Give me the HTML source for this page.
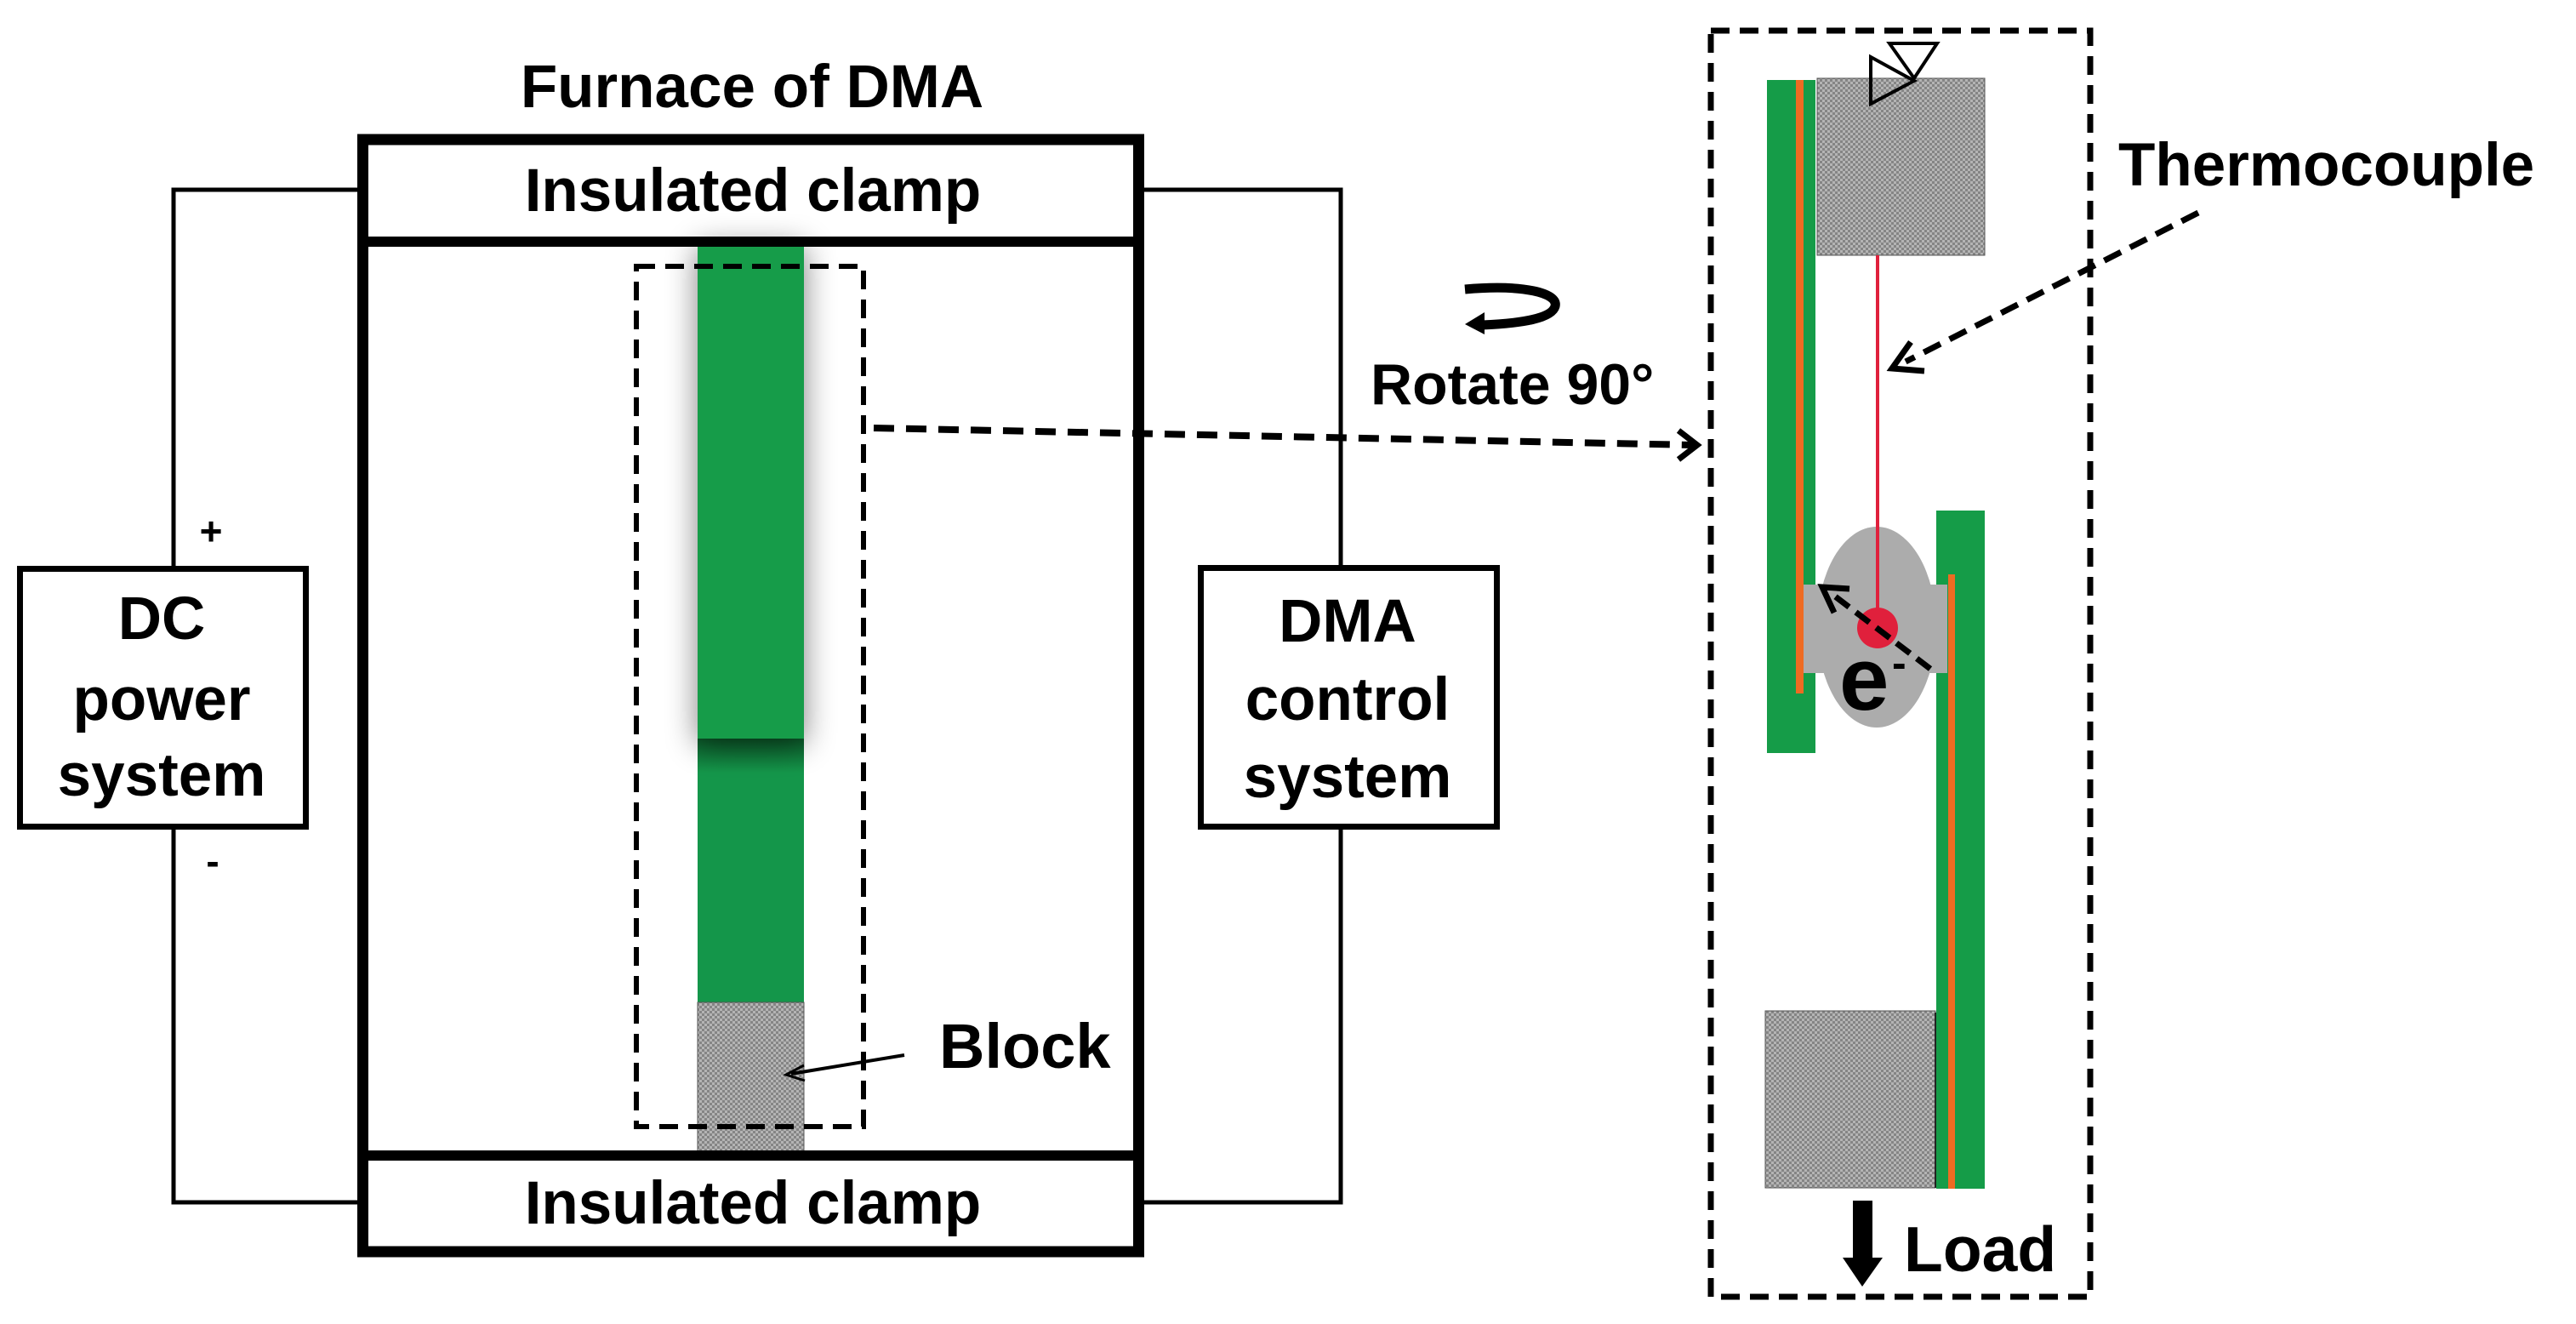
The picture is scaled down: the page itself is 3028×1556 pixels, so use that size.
<!DOCTYPE html>
<html><head><meta charset="utf-8"><style>
html,body{margin:0;padding:0;background:#fff;}
svg{display:block;}
text{font-family:"Liberation Sans",Arial,sans-serif;font-weight:bold;fill:#000;}
</style></head><body>
<svg width="3028" height="1556" viewBox="0 0 3028 1556" xmlns="http://www.w3.org/2000/svg">
<defs>
<pattern id="chk" width="6" height="6" patternUnits="userSpaceOnUse">
<rect width="6" height="6" fill="#b4b4b4"/>
<rect width="3" height="3" fill="#858585"/>
<rect x="3" y="3" width="3" height="3" fill="#858585"/>
</pattern>
<filter id="sh" x="-80%" y="-20%" width="260%" height="140%">
<feGaussianBlur in="SourceAlpha" stdDeviation="18"/>
<feOffset dx="0" dy="6"/>
<feComponentTransfer><feFuncA type="linear" slope="0.5"/></feComponentTransfer>
<feMerge><feMergeNode/><feMergeNode in="SourceGraphic"/></feMerge>
</filter>
<linearGradient id="dk" x1="0" y1="0" x2="0" y2="1">
<stop offset="0" stop-color="#0c5a2a"/>
<stop offset="1" stop-color="#14964a"/>
</linearGradient>
</defs>

<text x="884" y="126" font-size="71" text-anchor="middle">Furnace of DMA</text>

<polyline points="426,223 204,223 204,665" fill="none" stroke="#000" stroke-width="5"/>
<polyline points="204,975 204,1413 426,1413" fill="none" stroke="#000" stroke-width="5"/>
<polyline points="1338,223 1576,223 1576,665" fill="none" stroke="#000" stroke-width="5"/>
<polyline points="1576,975 1576,1413 1338,1413" fill="none" stroke="#000" stroke-width="5"/>

<rect x="820" y="868" width="125" height="310" fill="#14964a"/>
<rect x="820" y="868" width="125" height="40" fill="url(#dk)"/>
<rect x="820" y="284" width="125" height="584" fill="#159c48" filter="url(#sh)"/>
<rect x="820" y="1178" width="125" height="176" fill="url(#chk)" stroke="#555" stroke-width="1"/>

<rect x="426.5" y="164" width="912" height="1307" fill="none" stroke="#000" stroke-width="13"/>
<line x1="426" y1="284" x2="1339" y2="284" stroke="#000" stroke-width="12"/>
<line x1="426" y1="1358" x2="1339" y2="1358" stroke="#000" stroke-width="12"/>
<text x="885" y="248" font-size="71" text-anchor="middle">Insulated clamp</text>
<text x="885" y="1438" font-size="71" text-anchor="middle">Insulated clamp</text>

<rect x="748" y="313" width="267" height="1011" fill="none" stroke="#000" stroke-width="6" stroke-dasharray="22,12"/>

<text x="1104" y="1255" font-size="74">Block</text>
<line x1="1063" y1="1240" x2="930" y2="1262" stroke="#000" stroke-width="4"/>
<polyline points="945,1252 924,1263 946,1270" fill="none" stroke="#000" stroke-width="3"/>

<rect x="23.5" y="668.5" width="336" height="303" fill="#fff" stroke="#000" stroke-width="7"/>
<text x="190" y="751" font-size="71" text-anchor="middle">DC</text>
<text x="190" y="846" font-size="71" text-anchor="middle">power</text>
<text x="190" y="935" font-size="71" text-anchor="middle">system</text>
<text x="248" y="640" font-size="46" text-anchor="middle">+</text>
<text x="250" y="1028" font-size="46" text-anchor="middle">-</text>

<rect x="1411.5" y="667.5" width="348" height="304" fill="#fff" stroke="#000" stroke-width="7"/>
<text x="1584" y="754" font-size="71" text-anchor="middle">DMA</text>
<text x="1584" y="846" font-size="71" text-anchor="middle">control</text>
<text x="1584" y="937" font-size="71" text-anchor="middle">system</text>

<line x1="1027" y1="503" x2="1990" y2="523" stroke="#000" stroke-width="8" stroke-dasharray="24,14"/>
<polyline points="1973,506 1995,523 1973,540" fill="none" stroke="#000" stroke-width="7"/>

<path d="M1722,340 C1790,334 1832,344 1828,360 C1824,374 1790,380 1742,382" fill="none" stroke="#000" stroke-width="11"/>
<polygon points="1722,381 1745,367 1745,393" fill="#000"/>
<text x="1611" y="475" font-size="68">Rotate 90°</text>

<rect x="2011" y="36" width="446" height="1488" fill="none" stroke="#000" stroke-width="7" stroke-dasharray="22,12"/>

<rect x="2077" y="94" width="57" height="791" fill="#159c48"/>
<rect x="2111" y="94" width="9" height="721" fill="#ee6b22"/>
<rect x="2136" y="92" width="197" height="208" fill="url(#chk)" stroke="#555" stroke-width="1"/>
<polygon points="2199,67 2199,122 2250,95" fill="none" stroke="#000" stroke-width="4"/>
<polygon points="2221,51 2277,51 2250,92" fill="#fff" stroke="#000" stroke-width="4"/>

<rect x="2276" y="600" width="57" height="797" fill="#159c48"/>
<rect x="2290" y="675" width="8" height="722" fill="#ee6b22"/>
<rect x="2075" y="1188" width="200" height="208" fill="url(#chk)" stroke="#555" stroke-width="1"/>
<line x1="2275" y1="1190" x2="2275" y2="1396" stroke="#222" stroke-width="2"/>

<ellipse cx="2206" cy="737" rx="70" ry="118" fill="#acacac"/>
<rect x="2120" y="687" width="169" height="104" fill="#acacac"/>
<line x1="2207" y1="300" x2="2207" y2="730" stroke="#e0203c" stroke-width="4"/>
<circle cx="2207" cy="738" r="24" fill="#e0203c"/>
<line x1="2269" y1="786" x2="2152" y2="697" stroke="#000" stroke-width="7" stroke-dasharray="20,10"/>
<polyline points="2156,720 2142,690 2174,692" fill="none" stroke="#000" stroke-width="7"/>
<text x="2162" y="834" font-size="105">e</text>
<text x="2224" y="796" font-size="50">-</text>

<text x="2490" y="218" font-size="71">Thermocouple</text>
<line x1="2584" y1="250" x2="2240" y2="425" stroke="#000" stroke-width="7" stroke-dasharray="22,12"/>
<polyline points="2246,402 2224,433 2262,436" fill="none" stroke="#000" stroke-width="7"/>

<rect x="2178" y="1411" width="23" height="70" fill="#000"/>
<polygon points="2166,1478 2213,1478 2189,1512" fill="#000"/>
<text x="2238" y="1494" font-size="75">Load</text>
</svg>
</body></html>
